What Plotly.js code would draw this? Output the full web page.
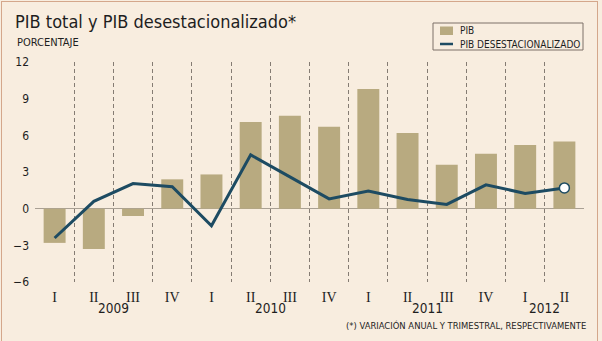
<!DOCTYPE html>
<html><head><meta charset="utf-8">
<script src="https://cdn.plot.ly/plotly-3.0.1.min.js"></script>
<style>
html,body{margin:0;padding:0;background:#f8eddf;}
#wrap{position:relative;width:602px;height:341px;overflow:hidden;}
#chart{width:602px;height:341px;}
#frame{position:absolute;left:1px;top:1px;width:597px;height:360px;border:1.5px solid #d4a78b;pointer-events:none;box-sizing:border-box;}
</style></head><body>
<div id="wrap"><div id="chart"></div><div id="frame"></div></div>
<script>
// ---- data ----
const quarters = ['I','II','III','IV','I','II','III','IV','I','II','III','IV','I','II'];
const years    = ['2009','2009','2009','2009','2010','2010','2010','2010','2011','2011','2011','2011','2012','2012'];
const pib      = [-2.8,-3.3,-0.6,2.4,2.8,7.1,7.6,6.7,9.8,6.2,3.6,4.5,5.2,5.5];
const pibDes   = [-2.4,0.6,2.05,1.8,-1.4,4.4,2.6,0.8,1.45,0.75,0.35,1.95,1.25,1.7];
const yTicks   = [-6,-3,0,3,6,9,12];
const seriesNames = ['PIB','PIB DESESTACIONALIZADO'];
const titleText = 'PIB total y PIB desestacionalizado*';
const unitText = 'PORCENTAJE';
const noteText = '(*) VARIACIÓN ANUAL Y TRIMESTRAL, RESPECTIVAMENTE';

// ---- styling ----
const BG = '#f8eddf', BAR = '#b8aa80', LINE = '#1d4b62', TXT = '#1e1e1e';
const SANS = '"DejaVu Sans Condensed", "DejaVu Sans", sans-serif';
const SERIF = '"Liberation Serif", serif';
const L = 35, R = 18, T = 62, B = 59, W = 602, H = 341;
const PW = W - L - R, PH = H - T - B;
const px = x => (x - L) / PW;
const py = y => (H - B - y) / PH;

const idx = quarters.map((_, i) => i);
const bounds = idx.map(i => i - 0.5).concat([idx.length - 0.5]);
const n = idx.length;

const uniqYears = [...new Set(years)];
const yearPos = uniqYears.map(y => {
  const ii = idx.filter(i => years[i] === y);
  return ii.reduce((a, b) => a + b, 0) / ii.length;
});

const traces = [
  {type: 'bar', x: idx, y: pib, name: seriesNames[0], width: 0.56,
   marker: {color: BAR}, showlegend: false, hoverinfo: 'y'},
  {type: 'scatter', mode: 'lines', x: idx, y: pibDes, name: seriesNames[1],
   line: {color: LINE, width: 3}, showlegend: false},
  {type: 'scatter', mode: 'markers', x: [idx[n - 1]], y: [pibDes[n - 1]], showlegend: false,
   marker: {color: '#ffffff', size: 10, line: {color: LINE, width: 1.5}}}
];

const annotations = [
  {text: unitText, xref: 'paper', yref: 'paper', x: px(15), y: py(43), xanchor: 'left', yanchor: 'middle',
   showarrow: false, font: {family: SANS, size: 11, color: TXT}},
  {text: noteText, xref: 'paper', yref: 'paper', x: px(588), y: py(325), xanchor: 'right', yanchor: 'middle',
   showarrow: false, font: {family: SANS, size: 9.4, color: TXT}},
  {text: seriesNames[0], xref: 'paper', yref: 'paper', x: px(458), y: py(30.5), xanchor: 'left', yanchor: 'middle',
   showarrow: false, font: {family: SANS, size: 10, color: TXT}},
  {text: seriesNames[1], xref: 'paper', yref: 'paper', x: px(458), y: py(44), xanchor: 'left', yanchor: 'middle',
   showarrow: false, font: {family: SANS, size: 10, color: TXT}}
].concat(uniqYears.map((y, k) => ({
  text: y, xref: 'x', yref: 'paper', x: yearPos[k], y: py(308), xanchor: 'center', yanchor: 'middle',
  showarrow: false, font: {family: SANS, size: 13.5, color: TXT}
})));

const shapes = [
  {type: 'rect', xref: 'paper', yref: 'paper', x0: px(433), x1: px(583), y0: py(50), y1: py(23),
   line: {color: '#7c7168', width: 1}, fillcolor: 'rgba(0,0,0,0)'},
  {type: 'rect', xref: 'paper', yref: 'paper', x0: px(440), x1: px(453), y0: py(35), y1: py(26.5),
   line: {width: 0}, fillcolor: BAR},
  {type: 'line', xref: 'paper', yref: 'paper', x0: px(440), x1: px(453), y0: py(44), y1: py(44),
   line: {color: LINE, width: 2.5}}
];

const layout = {
  width: W, height: H,
  margin: {l: L, r: R, t: T, b: B, pad: 0},
  paper_bgcolor: BG, plot_bgcolor: BG,
  title: {text: titleText, x: 15 / W, xref: 'container', xanchor: 'left', y: 1 - 22 / H, yref: 'container',
          yanchor: 'middle', font: {family: SANS, size: 18, color: TXT}},
  xaxis: {range: [-0.5, n - 0.5], tickmode: 'array', tickvals: idx, ticktext: quarters,
          tickfont: {family: SERIF, size: 14, color: TXT}, showgrid: false, zeroline: false, showline: false,
          ticks: '', ticklabelstandoff: 5,
          minor: {tickmode: 'array', tickvals: bounds, showgrid: true, griddash: '4px,3px', gridcolor: '#857c73', gridwidth: 1, ticks: ''},
          fixedrange: true},
  yaxis: {range: [-6, 12], tickmode: 'array', tickvals: yTicks, showgrid: false,
          zeroline: true, zerolinecolor: '#a9a094', zerolinewidth: 1.5, showline: false, ticks: '',
          tickfont: {family: SANS, size: 12, color: TXT}, ticklabelstandoff: 5, fixedrange: true},
  showlegend: false,
  annotations: annotations,
  shapes: shapes
};

Plotly.newPlot('chart', traces, layout, {displayModeBar: false, staticPlot: true});
</script>
</body></html>
